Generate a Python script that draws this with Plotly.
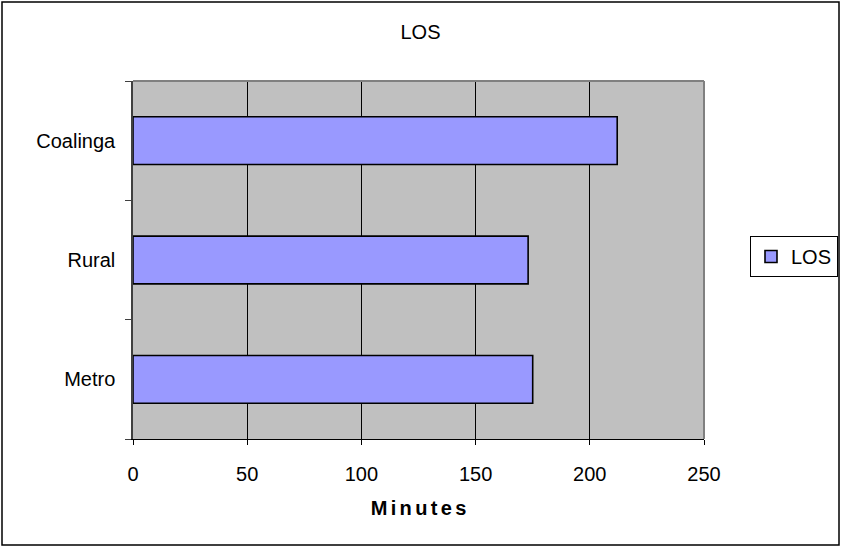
import plotly.graph_objects as go

categories = ["Metro", "Rural", "Coalinga"]
los_minutes = [175, 173, 212]
series_name = "LOS"
x_ticks = [0, 50, 100, 150, 200, 250]

W, H = 841, 547
L, R, T, B = 133, 137, 81, 108
pw, ph = W - L - R, H - T - B

def px_x(px):
    return (px - L) / pw

def px_y(py):
    return (H - B - py) / ph

fig = go.Figure()
fig.add_trace(go.Bar(
    y=categories, x=los_minutes, orientation="h", name=series_name,
    marker=dict(color="#9999FF", line=dict(color="#000000", width=1.6)),
    showlegend=True,
))

font = "Liberation Sans, Arial, sans-serif"
sp = "\u2006"
fig.update_layout(
    width=W, height=H, autosize=False,
    margin=dict(l=L, r=R, t=T, b=B),
    paper_bgcolor="white", plot_bgcolor="#C0C0C0",
    bargap=0.6,
    font=dict(family=font, size=20, color="black"),
    title=dict(text="LOS", x=0.5, xanchor="center", y=1 - 32 / H, yanchor="middle",
               font=dict(size=20)),
    xaxis=dict(range=[0, 250], tickvals=x_ticks, ticks="outside", ticklen=5,
               tickcolor="black", showgrid=True, gridcolor="black", gridwidth=1,
               showline=True, linecolor="black", linewidth=1, zeroline=False,
               ticklabelstandoff=12,
               title=dict(text="<b>" + sp.join("Minutes") + "</b>",
                          font=dict(size=20), standoff=16)),
    yaxis=dict(type="category", categoryorder="array", categoryarray=categories,
               tickson="boundaries", ticks="outside", ticklen=6, tickcolor="#404040",
               showgrid=False, showline=True, linecolor="#404040", linewidth=1.5,
               ticklabelstandoff=12),
    legend=dict(xref="container", yref="container",
                x=750 / W, y=1 - 256.5 / H, xanchor="left", yanchor="middle",
                bordercolor="black", borderwidth=1, bgcolor="white",
                font=dict(size=20), itemwidth=30),
    showlegend=True,
)

# plot area top/right border (gray)
fig.add_shape(type="line", xref="paper", yref="paper", x0=0, x1=1, y0=1, y1=1,
              line=dict(color="#808080", width=2))
fig.add_shape(type="line", xref="paper", yref="paper", x0=1, x1=1, y0=0, y1=1,
              line=dict(color="#808080", width=2))
# outer chart frame
fig.add_shape(type="rect", xref="paper", yref="paper",
              x0=px_x(2), x1=px_x(839), y0=px_y(545), y1=px_y(2),
              line=dict(color="black", width=1.5), layer="below")

post = (
    "document.body.style.margin='0';"
    "document.body.style.overflow='hidden';"
)
fig.write_html(
    "out.html",
    config={"displayModeBar": False, "responsive": False},
    post_script=post,
)
